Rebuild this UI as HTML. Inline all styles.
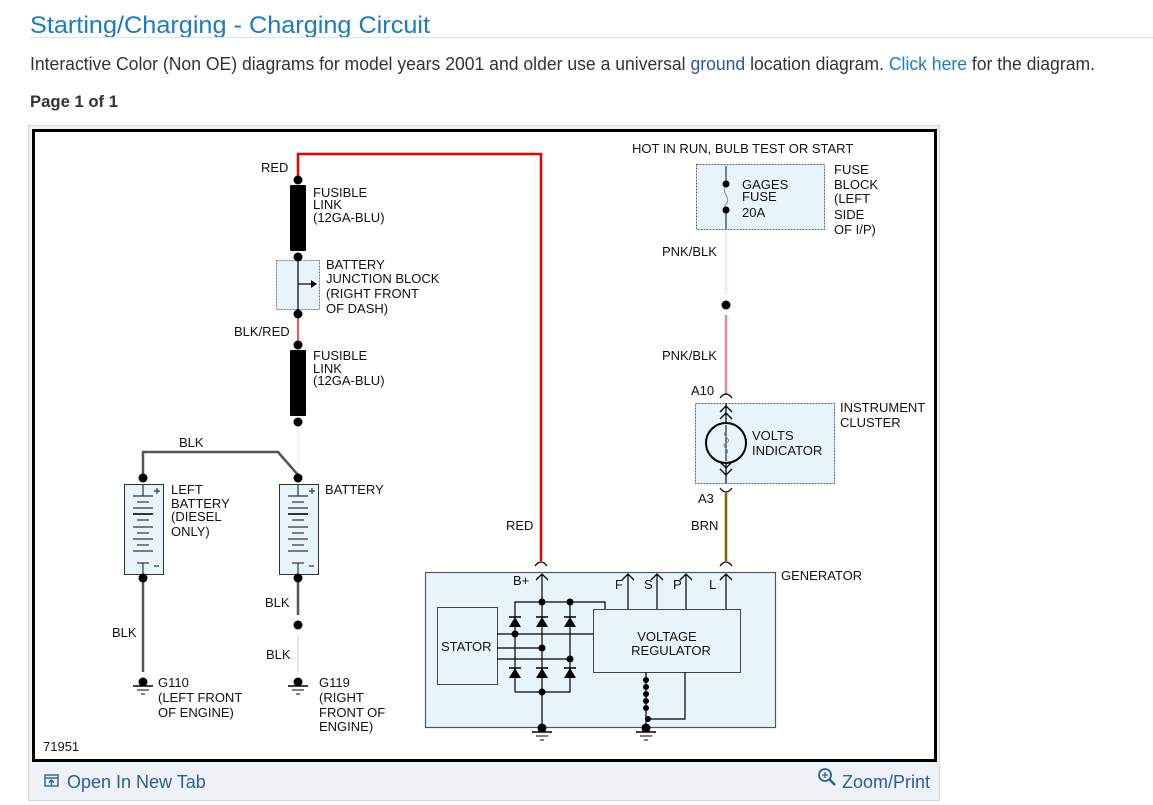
<!DOCTYPE html>
<html><head><meta charset="utf-8"><style>
html,body{margin:0;padding:0;background:#fff;width:1153px;height:805px;overflow:hidden}
svg{display:block}
text{font-family:"Liberation Sans",Arial,sans-serif}
.t{font-size:13px;fill:#111}
</style></head><body>
<svg width="1153" height="805" viewBox="0 0 1153 805" xmlns="http://www.w3.org/2000/svg">
<defs>
<g id="gnd"><circle cx="0" cy="0" r="4.5" fill="#000"/><line x1="-10" y1="4" x2="10" y2="4" stroke="#000" stroke-width="1.5"/><line x1="-6" y1="8" x2="6" y2="8" stroke="#000" stroke-width="1"/><line x1="-2" y1="12" x2="2" y2="12" stroke="#000" stroke-width="1"/></g>
<g id="dup"><path d="M-6,6 L0,0 L6,6" fill="none" stroke="#000" stroke-width="1.3"/></g>
<g id="diode"><path d="M-6,8 L6,8 L0,-2 Z" fill="#000"/><line x1="-6" y1="-2" x2="6" y2="-2" stroke="#000" stroke-width="1.5"/></g>
</defs>
<text x="30" y="33" font-size="24" fill="#1b7bc1" textLength="400" lengthAdjust="spacingAndGlyphs">Starting/Charging - Charging Circuit</text>
<line x1="30" y1="37.5" x2="1153" y2="37.5" stroke="#d6e2ec" stroke-width="1"/>
<text x="30" y="70" font-size="18" fill="#333" textLength="1065" lengthAdjust="spacingAndGlyphs">Interactive Color (Non OE) diagrams for model years 2001 and older use a universal <tspan fill="#2a56a0">ground</tspan> location diagram. <tspan fill="#1b7bc1">Click here</tspan> for the diagram.</text>
<text x="30" y="107" font-size="17" font-weight="bold" fill="#333" textLength="88" lengthAdjust="spacingAndGlyphs">Page 1 of 1</text>
<rect x="28.5" y="125.5" width="911" height="675" fill="#eef1f6" stroke="#d8d8d8" stroke-width="1"/>
<rect x="33.5" y="130.5" width="902" height="630" fill="#fff" stroke="#000" stroke-width="3"/>
<g fill="none" stroke="#2a5d9a" stroke-width="1.4"><rect x="45" y="775" width="13" height="11"/><line x1="45" y1="778" x2="58" y2="778"/><path d="M51.5,785 L51.5,780 M49,782.5 L51.5,780 L54,782.5"/></g>
<text x="67" y="788" font-size="18" fill="#2a5d9a">Open In New Tab</text>
<circle cx="825" cy="775" r="6" fill="none" stroke="#2a5d9a" stroke-width="1.8"/><line x1="829" y1="779" x2="835" y2="785" stroke="#2a5d9a" stroke-width="2.5"/><path d="M822,775 h6 M825,772 v6" stroke="#2a5d9a" stroke-width="1.3"/>
<text x="930" y="788" font-size="18" fill="#2a5d9a" text-anchor="end">Zoom/Print</text>

<polyline points="298,180 298,154 541,154 541,561" fill="none" stroke="#e00" stroke-width="2.5"/>
<path d="M535,566 Q541,558 547,566" fill="none" stroke="#000" stroke-width="1.2"/>
<rect x="290" y="185" width="16" height="66" fill="#000" rx="1"/>
<rect x="276.5" y="260.5" width="43" height="49" fill="#e8f4fc" stroke="#777" stroke-dasharray="2,1"/>
<line x1="298" y1="257" x2="298" y2="314" stroke="#000" stroke-width="1.2"/>
<line x1="298" y1="284" x2="314" y2="284" stroke="#000" stroke-width="1.2"/><path d="M311,280 L317,284 L311,288 Z" fill="#000"/>
<line x1="298" y1="314" x2="298" y2="345" stroke="#d22" stroke-width="1.5"/>
<rect x="290" y="350" width="16" height="66" fill="#000" rx="1"/>
<line x1="298" y1="422" x2="298" y2="478" stroke="#e8e8e8" stroke-width="1"/>
<polyline points="143,478 143,452 278,452 298,475" fill="none" stroke="#555" stroke-width="2.5"/>
<g id="bat">
<rect x="124.5" y="484.5" width="39" height="90" fill="#e8f4fc" stroke="#333"/>
<g stroke="#333" stroke-width="1.2"><line x1="143" y1="484" x2="143" y2="496"/><line x1="133" y1="496" x2="153" y2="496"/><line x1="137" y1="502" x2="149" y2="502"/><line x1="133" y1="508" x2="153" y2="508"/><line x1="133" y1="514" x2="153" y2="514" stroke-width="2"/><line x1="137" y1="520" x2="149" y2="520"/><line x1="133" y1="527" x2="153" y2="527"/><line x1="137" y1="533" x2="149" y2="533"/><line x1="133" y1="539" x2="153" y2="539"/><line x1="137" y1="545" x2="149" y2="545"/><line x1="133" y1="551" x2="153" y2="551"/><line x1="137" y1="563" x2="149" y2="563"/><line x1="143" y1="563" x2="143" y2="574"/><path d="M154,491 h6 M157,488 v6 M154,566 h5"/></g>
</g>
<use href="#bat" x="155"/>
<line x1="143" y1="578" x2="143" y2="672" stroke="#555" stroke-width="2.5"/>
<line x1="298" y1="578" x2="298" y2="615" stroke="#555" stroke-width="2.5"/>
<line x1="298" y1="635" x2="298" y2="672" stroke="#e6e6e6" stroke-width="2"/>
<g fill="#000"><circle cx="298" cy="180" r="4.5"/><circle cx="298" cy="257" r="4.5"/><circle cx="298" cy="314" r="4.5"/><circle cx="298" cy="345" r="4.5"/><circle cx="298" cy="422" r="4.5"/><circle cx="143" cy="478" r="4.5"/><circle cx="298" cy="478" r="4.5"/><circle cx="143" cy="578" r="4.5"/><circle cx="298" cy="578" r="4.5"/><circle cx="298" cy="625" r="4.5"/></g>
<use href="#gnd" x="143" y="682"/><use href="#gnd" x="298" y="682"/>
<text x="261" y="172" class="t">RED</text>
<text x="313" y="197" class="t">FUSIBLE</text><text x="313" y="209" class="t">LINK</text><text x="313" y="222" class="t">(12GA-BLU)</text>
<text x="326" y="269" class="t">BATTERY</text><text x="326" y="283" class="t">JUNCTION BLOCK</text><text x="326" y="298" class="t">(RIGHT FRONT</text><text x="326" y="313" class="t">OF DASH)</text>
<text x="234" y="336" class="t">BLK/RED</text>
<text x="313" y="360" class="t">FUSIBLE</text><text x="313" y="373" class="t">LINK</text><text x="313" y="385" class="t">(12GA-BLU)</text>
<text x="179" y="447" class="t">BLK</text>
<text x="171" y="494" class="t">LEFT</text><text x="171" y="508" class="t">BATTERY</text><text x="171" y="521" class="t">(DIESEL</text><text x="171" y="536" class="t">ONLY)</text>
<text x="325" y="494" class="t">BATTERY</text>
<text x="265" y="607" class="t">BLK</text>
<text x="112" y="637" class="t">BLK</text>
<text x="266" y="659" class="t">BLK</text>
<text x="158" y="687" class="t">G110</text><text x="158" y="702" class="t">(LEFT FRONT</text><text x="158" y="717" class="t">OF ENGINE)</text>
<text x="319" y="687" class="t">G119</text><text x="319" y="702" class="t">(RIGHT</text><text x="319" y="717" class="t">FRONT OF</text><text x="319" y="731" class="t">ENGINE)</text>
<text x="43" y="751" class="t">71951</text>
<text x="506" y="530" class="t">RED</text>

<text x="632" y="153" class="t">HOT IN RUN, BULB TEST OR START</text>
<rect x="696.5" y="164.5" width="128" height="65" fill="#e8f4fc" stroke="#666" stroke-dasharray="2,1"/>
<line x1="726" y1="166" x2="726" y2="229" stroke="#333" stroke-width="1.2"/>
<rect x="723" y="187" width="6" height="21" fill="#e8f4fc"/>
<path d="M726,186 C720,192 732,198 726,204 C723,207 727,208 726,208" fill="none" stroke="#888" stroke-width="1"/>
<circle cx="726" cy="184" r="3.5" fill="#000"/><circle cx="726" cy="210" r="3.5" fill="#000"/>
<text x="742" y="189" class="t">GAGES</text><text x="742" y="201" class="t">FUSE</text><text x="742" y="217" class="t">20A</text>
<text x="834" y="174" class="t">FUSE</text><text x="834" y="189" class="t">BLOCK</text><text x="834" y="203" class="t">(LEFT</text><text x="834" y="219" class="t">SIDE</text><text x="834" y="234" class="t">OF I/P)</text>
<line x1="726" y1="230" x2="726" y2="295" stroke="#fde6ea" stroke-width="2.5"/>
<circle cx="726" cy="305" r="4.5" fill="#000"/>
<line x1="726" y1="315" x2="726" y2="395" stroke="#e08d9c" stroke-width="2.5"/>
<text x="662" y="256" class="t">PNK/BLK</text><text x="662" y="360" class="t">PNK/BLK</text>
<text x="691" y="395" class="t">A10</text>
<path d="M720,398 Q726,390 732,398" fill="none" stroke="#000" stroke-width="1.2"/>
<rect x="695.5" y="403.5" width="139" height="80" fill="#e8f4fc" stroke="#666" stroke-dasharray="2,1"/>
<line x1="726" y1="403" x2="726" y2="483" stroke="#000" stroke-width="1.2"/>
<use href="#dup" x="726" y="406"/><use href="#dup" x="726" y="413"/><use href="#dup" x="726" y="425"/>
<g transform="rotate(180 726 470)"><use href="#dup" x="726" y="465"/><use href="#dup" x="726" y="472"/></g>
<g transform="rotate(180 726 459)"><use href="#dup" x="726" y="459"/></g>
<circle cx="726" cy="443" r="20" fill="#e8f4fc" stroke="#000" stroke-width="2"/>
<line x1="726" y1="425" x2="726" y2="461" stroke="#000" stroke-width="1"/>
<path d="M726,432 C720,435 734,440 726,443 C719,446 732,450 726,454" fill="none" stroke="#888" stroke-width="1"/>
<text x="752" y="440" class="t">VOLTS</text><text x="752" y="455" class="t">INDICATOR</text>
<text x="840" y="412" class="t">INSTRUMENT</text><text x="840" y="427" class="t">CLUSTER</text>
<path d="M720,488 Q726,496 732,488" fill="none" stroke="#000" stroke-width="1.2"/>
<text x="698" y="503" class="t">A3</text><text x="691" y="530" class="t">BRN</text>
<line x1="726" y1="493" x2="726" y2="561" stroke="#8a5a00" stroke-width="2.5"/>
<path d="M720,566 Q726,558 732,566" fill="none" stroke="#000" stroke-width="1.2"/>

<rect x="425.5" y="572.5" width="350" height="155" fill="#e8f4fc" stroke="#555" stroke-width="1.2"/>
<text x="781" y="580" class="t">GENERATOR</text>
<rect x="437.5" y="607.5" width="60" height="77" fill="#e8f4fc" stroke="#444"/>
<text x="441" y="651" class="t">STATOR</text>
<rect x="593.5" y="609.5" width="147" height="63" fill="#e8f4fc" stroke="#444"/>
<text x="667" y="641" class="t" text-anchor="middle">VOLTAGE</text><text x="671" y="655" class="t" text-anchor="middle">REGULATOR</text>
<g stroke="#000" stroke-width="1.2" fill="none">
<line x1="542" y1="574" x2="542" y2="728"/>
<polyline points="515,692 515,602 605,602 605,609"/>
<polyline points="515,692 570,692 570,602"/>
<line x1="497" y1="634" x2="593" y2="634"/>
<line x1="497" y1="648" x2="542" y2="648"/>
<line x1="497" y1="659" x2="570" y2="659"/>
<line x1="628" y1="575" x2="628" y2="609"/><line x1="657" y1="575" x2="657" y2="609"/><line x1="686" y1="575" x2="686" y2="609"/><line x1="726" y1="575" x2="726" y2="609"/>
<polyline points="685,672 685,719 648,719"/>
<line x1="646" y1="672" x2="646" y2="728"/>
</g>
<use href="#dup" x="542" y="574"/><use href="#dup" x="628" y="574"/><use href="#dup" x="657" y="574"/><use href="#dup" x="686" y="574"/><use href="#dup" x="726" y="574"/>
<text x="513" y="585" class="t">B+</text><text x="615" y="589" class="t">F</text><text x="644" y="589" class="t">S</text><text x="673" y="589" class="t">P</text><text x="709" y="589" class="t">L</text>
<use href="#diode" x="515" y="619"/><use href="#diode" x="542" y="619"/><use href="#diode" x="570" y="619"/>
<use href="#diode" x="515" y="670"/><use href="#diode" x="542" y="670"/><use href="#diode" x="570" y="670"/>
<g fill="#000"><circle cx="542" cy="602" r="3.5"/><circle cx="570" cy="602" r="3.5"/><circle cx="515" cy="634" r="3.5"/><circle cx="542" cy="648" r="3.5"/><circle cx="570" cy="659" r="3.5"/><circle cx="542" cy="692" r="3.5"/><circle cx="648" cy="719" r="3"/>
<circle cx="646" cy="680" r="3"/><circle cx="646" cy="687" r="3"/><circle cx="646" cy="694" r="3"/><circle cx="646" cy="701" r="3"/><circle cx="646" cy="708" r="3"/></g>
<use href="#gnd" x="542" y="728"/><use href="#gnd" x="646" y="728"/>
</svg>
</body></html>
